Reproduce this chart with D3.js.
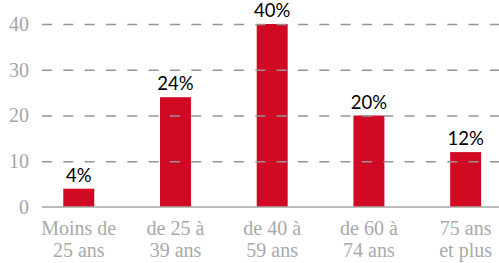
<!DOCTYPE html>
<html>
<head>
<meta charset="utf-8">
<script src="https://cdn.jsdelivr.net/npm/d3@7"></script>
<style>
  html, body { margin: 0; padding: 0; background: #fff; }
  svg { display: block; }
</style>
</head>
<body>
<svg id="chart" width="499" height="263"></svg>
<script>
const categories = [["Moins de", "25 ans"], ["de 25 à", "39 ans"], ["de 40 à", "59 ans"], ["de 60 à", "74 ans"], ["75 ans", "et plus"]];
const values = [4, 24, 40, 20, 12];
const valueLabels = ["4%", "24%", "40%", "20%", "12%"];
const yTicks = [0, 10, 20, 30, 40];

const svg = d3.select("#chart");
const axisLeft = 42, axisRight = 499;

const x = d3.scaleBand()
  .domain(d3.range(categories.length))
  .range([30.4, 514])
  .paddingInner(0.68)
  .paddingOuter(0.34);

const y = d3.scaleLinear().domain([0, 40]).range([207, 24]);

// bars
svg.append("g").selectAll("rect")
  .data(values)
  .join("rect")
  .attr("x", (d, i) => x(i))
  .attr("width", x.bandwidth())
  .attr("y", d => y(d))
  .attr("height", d => y(0) - y(d))
  .attr("fill", "#cf0a22");

// gridlines (drawn over the bars)
const grid = d3.axisLeft(y).tickValues(yTicks.filter(t => t > 0))
  .tickSize(-(axisRight - axisLeft)).tickFormat("");
const gg = svg.append("g").attr("transform", `translate(${axisLeft},0)`).call(grid);
gg.select(".domain").remove();
gg.selectAll(".tick line")
  .attr("stroke", "#959595")
  .attr("stroke-width", 1.4)
  .attr("stroke-dasharray", "10,11.33");

// baseline
svg.append("line")
  .attr("x1", axisLeft).attr("x2", axisRight)
  .attr("y1", y(0)).attr("y2", y(0))
  .attr("stroke", "#a6a6a6").attr("stroke-width", 1.5);

// y tick labels
svg.append("g").selectAll("text")
  .data(yTicks)
  .join("text")
  .attr("x", 29)
  .attr("y", d => y(d))
  .attr("dy", "0.34em")
  .attr("text-anchor", "end")
  .attr("font-family", "'Liberation Serif', 'Times New Roman', serif")
  .attr("font-size", 20)
  .attr("fill", "#a6a6a6")
  .text(d => d);

// value labels
svg.append("g").selectAll("text")
  .data(values)
  .join("text")
  .attr("x", (d, i) => x(i) + x.bandwidth() / 2)
  .attr("y", d => y(d) - 7)
  .attr("text-anchor", "middle")
  .attr("font-family", "Lato, 'Open Sans', sans-serif")
  .attr("font-size", 18.5)
  .attr("fill", "#000")
  .text((d, i) => valueLabels[i]);

// category labels
const cat = svg.append("g").selectAll("text")
  .data(categories)
  .join("text")
  .attr("text-anchor", "middle")
  .attr("font-family", "'Liberation Serif', 'Times New Roman', serif")
  .attr("font-size", 20)
  .attr("fill", "#a9a9a9");
cat.each(function(d, i) {
  const t = d3.select(this);
  const cx = x(i) + x.bandwidth() / 2;
  d.forEach((line, k) => {
    t.append("tspan").attr("x", cx).attr("y", 235 + k * 22).text(line);
  });
});
</script>
</body>
</html>
